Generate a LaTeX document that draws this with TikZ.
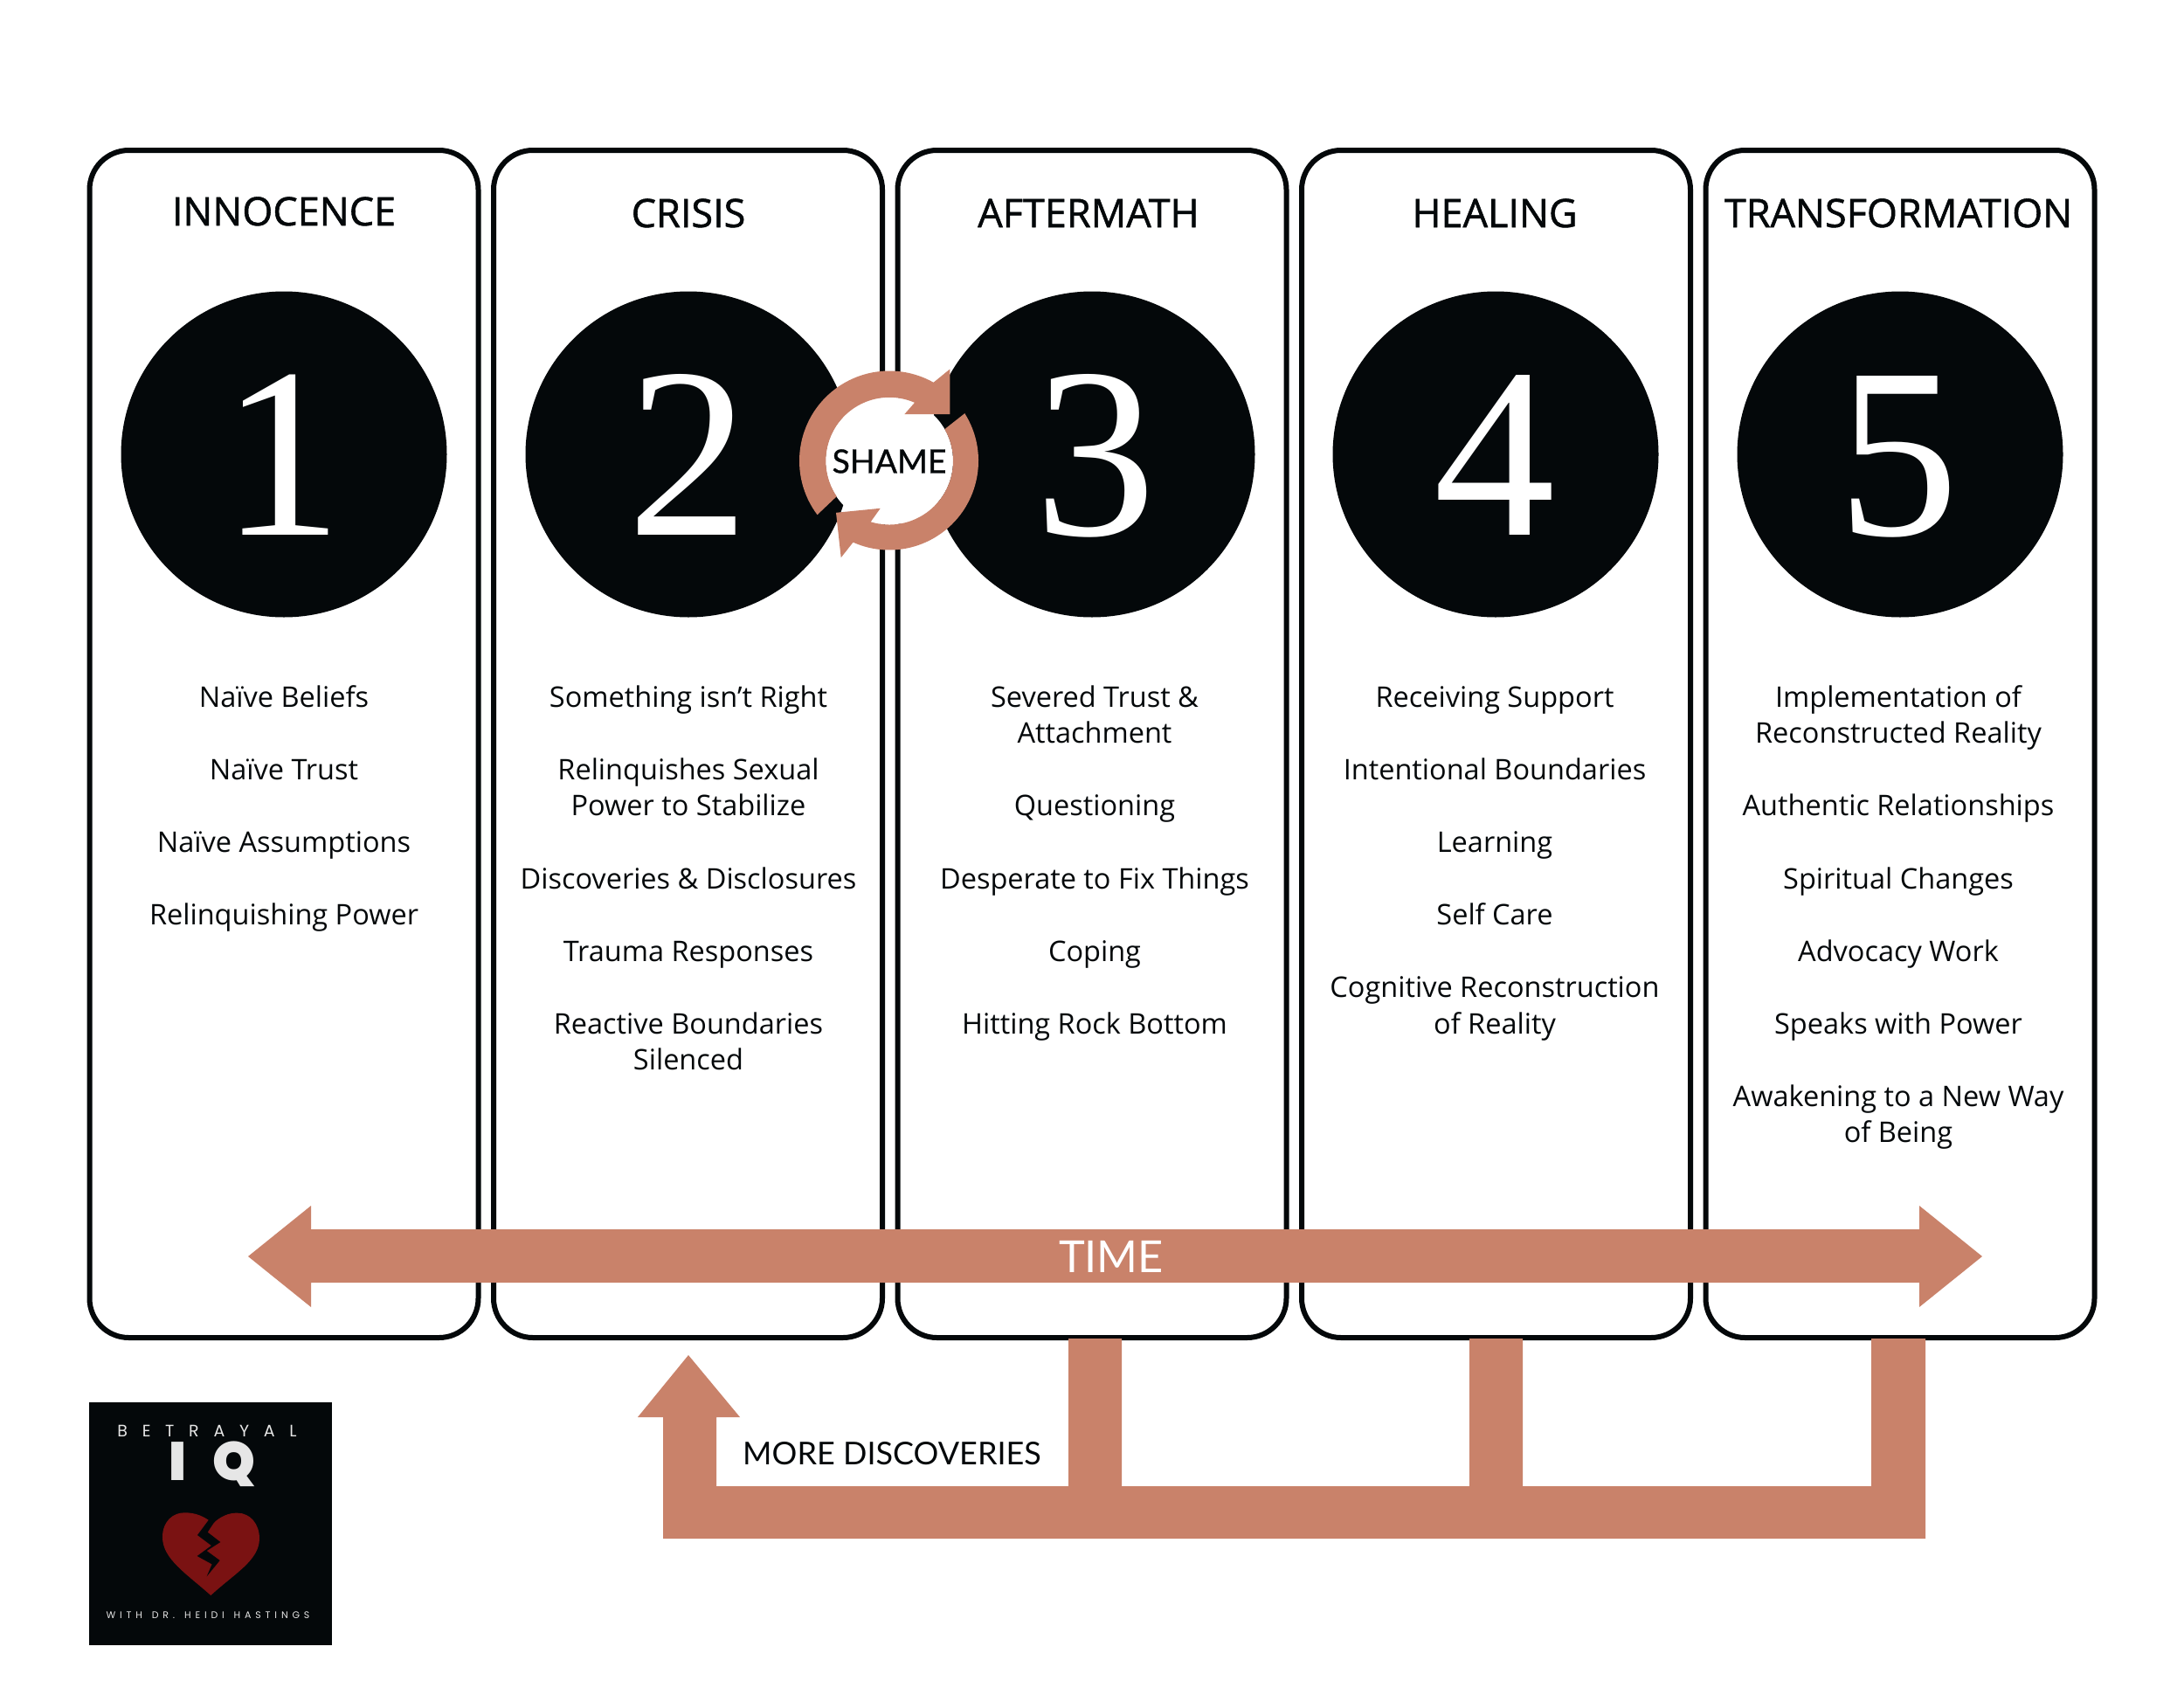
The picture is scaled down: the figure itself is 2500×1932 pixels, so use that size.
\documentclass[tikz,border=0pt]{standalone}
\usepackage{fontspec}
\setmainfont{Open Sans}
\newfontfamily\numfont{Liberation Serif}
\newfontfamily\optfont{Lato}
\newfontfamily\logofont{Poppins}
\newfontfamily\logoheavy{Poppins Black}
\newfontfamily\headfont[FakeBold=1.2]{Open Sans}
\newfontfamily\shamefont[FakeBold=0.8]{Lato}
\definecolor{terra}{HTML}{C9826A}
\definecolor{ink}{HTML}{04080A}
\definecolor{heartred}{HTML}{7A1212}
\definecolor{logogrey}{HTML}{E6E6E6}
\newcommand{\gp}{\\[41.55pt]}
\tikzset{
  panel/.style={draw=ink,line width=6pt,fill=white,rounded corners=45pt,minimum width=445pt,minimum height=1359pt,inner sep=0pt},
  disc/.style={circle,fill=ink,minimum size=373pt,inner sep=0pt},
  numeral/.style={anchor=base,text=white,inner sep=0pt,font=\numfont\fontsize{278}{278}\selectfont},
  heading/.style={anchor=base,inner sep=0pt,text=ink,font=\headfont\fontsize{45}{45}\selectfont},
  body/.style={anchor=north,align=center,inner sep=0pt,text=ink,font=\fontsize{32.5}{41.55}\selectfont},
  terrafill/.style={fill=terra,draw=none},
}
\begin{document}
\begin{tikzpicture}[x=1pt,y=-1pt]
\useasboundingbox (0,0) rectangle (2500,1932);
\fill[white] (0,0) rectangle (2500,1932);
% panels
\node[panel] (p1) at (325,851.5) {};
\node[panel] (p2) at (787.5,851.5) {};
\node[panel] (p3) at (1250,851.5) {};
\node[panel] (p4) at (1712.5,851.5) {};
\node[panel] (p5) at (2175,851.5) {};
% headings
\node[heading] (h1) at (325,258) {INNOCENCE};
\node[heading] (h2) at (788,260) {CRISIS};
\node[heading] (h3) at (1246,260) {AFTERMATH};
\node[heading] (h4) at (1711,260) {HEALING};
\node[heading] (h5) at (2173,260) {TRANSFORMATION};
% discs
\node[disc] (d1) at (325,520) {};
\node[disc] (d2) at (788,520) {};
\node[disc] (d3) at (1250,520) {};
\node[disc] (d4) at (1712,520) {};
\node[disc] (d5) at (2175,520) {};
\node[numeral] (n1) at (323,612) {1};
\node[numeral] (n2) at (788,612) {2};
\node[numeral] (n3) at (1254,612) {3};
\node[numeral] (n4) at (1711,612) {4};
\node[numeral] (n5) at (2173,612) {5};
% ring
\begin{scope}[shift={(1018,527.5)},y=1pt]
\fill[white] (0,0) circle[radius=73];
\fill[terra] (216.8:103) arc[start angle=216.8,end angle=60.6,radius=103]
  -- (69.3,105) -- (69.3,53.3) -- (17.3,53.3) -- (66.5:72.7)
  arc[start angle=66.5,end angle=214,radius=72.7] -- cycle;
\fill[terra] (32.2:102) arc[start angle=32.2,end angle=-114,radius=102]
  -- (-55.3,-110.7) -- (-61,-59.3) -- (-10.3,-54.3) -- (-107:73)
  arc[start angle=-107,end angle=29.8,radius=73] -- cycle;
\end{scope}
\node[inner sep=0pt,text=ink,font=\shamefont\fontsize{37.5}{37.5}\selectfont] (shame) at (1018,528) {SHAME};
% body texts
\node[body] (t1) at (325,780) {\strut Naïve Beliefs\gp Naïve Trust\gp Naïve Assumptions\gp Relinquishing Power};
\node[body] (t2) at (788,780) {\strut Something isn’t Right\gp Relinquishes Sexual\\Power to Stabilize\gp Discoveries \& Disclosures\gp Trauma Responses\gp Reactive Boundaries\\Silenced};
\node[body] (t3) at (1253,780) {\strut Severed Trust \&\\Attachment\gp Questioning\gp Desperate to Fix Things\gp Coping\gp Hitting Rock Bottom};
\node[body] (t4) at (1711,780) {\strut Receiving Support\gp Intentional Boundaries\gp Learning\gp Self Care\gp Cognitive Reconstruction\\of Reality};
\node[body] (t5) at (2173,780) {\strut Implementation of\\Reconstructed Reality\gp Authentic Relationships\gp Spiritual Changes\gp Advocacy Work\gp Speaks with Power\gp Awakening to a New Way\\of Being};
% time arrow
\fill[terrafill] (284,1438) -- (356,1380) -- (356,1407) -- (2197,1407) -- (2197,1380) -- (2269,1438) -- (2197,1496) -- (2197,1468) -- (356,1468) -- (356,1496) -- cycle;
\node[inner sep=0pt,text=white,font=\optfont\fontsize{50.5}{50.5}\selectfont] (time) at (1272,1438.5) {TIME};
% more discoveries arrow
\fill[terrafill] (788,1551) -- (847,1622) -- (820,1622) -- (820,1701) -- (1223,1701) -- (1223,1532) -- (1284,1532) -- (1284,1701) -- (1682,1701) -- (1682,1532) -- (1743,1532) -- (1743,1701) -- (2142,1701) -- (2142,1532) -- (2204,1532) -- (2204,1761) -- (759,1761) -- (759,1622) -- (730,1622) -- cycle;
\node[inner sep=0pt,text=ink,font=\optfont\fontsize{36}{36}\selectfont] (more) at (1021,1664) {MORE DISCOVERIES};
% logo
\fill[ink] (102,1605) rectangle (380,1883);
\node[inner sep=0pt,text=logogrey,font=\logofont\fontsize{19}{19}\selectfont\addfontfeatures{LetterSpace=88}] (betrayal) at (237,1638) {BETRAYAL};
\node[inner sep=0pt,text=logogrey,font=\logoheavy\fontsize{62}{62}\selectfont\addfontfeatures{LetterSpace=48}] (iq) at (243,1676) {IQ};
\node[inner sep=0pt,text=logogrey,font=\logofont\fontsize{11}{11}\selectfont\addfontfeatures{LetterSpace=44}] (with) at (238,1849) {WITH\hspace{3pt} DR.\hspace{3pt} HEIDI\hspace{3pt} HASTINGS};
\begin{scope}[shift={(80,1591)},x=0.3333pt,y=-0.3333pt]
\fill[heartred] (484,705) .. controls (400,630) and (318,580) .. (318,505) .. controls (318,450) and (355,420) .. (395,421) .. controls (430,421) and (460,432) .. (492,458) .. controls (515,435) and (545,421) .. (575,422) .. controls (620,422) and (651,460) .. (651,510) .. controls (651,585) and (565,630) .. (484,705) -- cycle;
\fill[ink] (476,447) -- (438,498) -- (486,534) -- (437,570) -- (488,598) -- (470,640) -- (515,585) -- (470,552) -- (517,522) -- (473,488) -- (506,438) -- cycle;
\end{scope}
\end{tikzpicture}
\end{document}
